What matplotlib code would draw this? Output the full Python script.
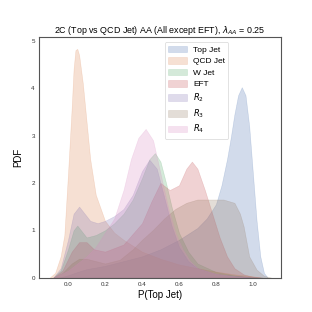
import matplotlib
matplotlib.use("Agg")
import matplotlib.pyplot as plt

# ----------------------------
# values (x = P(Top Jet), y = PDF)
# ----------------------------
labels = ["Top Jet", "QCD Jet", "W Jet", "EFT", "$R_2$", "$R_3$", "$R_4$"]
colors = ["#4C72B0", "#DD8452", "#55A868", "#C44E52", "#8172B3", "#937860", "#DA8BC3"]

top_x = [-0.05, 0.0, 0.05, 0.1, 0.2, 0.3, 0.4, 0.5, 0.6, 0.7, 0.75, 0.8, 0.83, 0.86, 0.88,
         0.9, 0.92, 0.94, 0.96, 0.98, 1.0, 1.02, 1.04, 1.06, 1.08]
top_y = [0, 0.05, 0.12, 0.18, 0.25, 0.35, 0.45, 0.6, 0.8, 1.05, 1.25, 1.55, 1.95, 2.5, 2.95,
         3.45, 3.85, 4.02, 3.85, 3.2, 2.2, 1.2, 0.45, 0.1, 0]

qcd_x = [-0.1, -0.07, -0.04, -0.02, 0.0, 0.02, 0.03, 0.04, 0.05, 0.06, 0.08, 0.1, 0.12,
         0.15, 0.2, 0.25, 0.3, 0.4, 0.5, 0.6, 0.7, 0.8, 0.9, 1.0, 1.05]
qcd_y = [0, 0.1, 0.45, 0.9, 2.2, 3.6, 4.4, 4.8, 4.83, 4.7, 4.1, 3.3, 2.5,
         1.75, 1.2, 0.95, 0.8, 0.55, 0.4, 0.28, 0.2, 0.13, 0.07, 0.03, 0]

w_x = [-0.08, -0.04, 0.0, 0.03, 0.05, 0.07, 0.1, 0.15, 0.2, 0.25, 0.3, 0.35, 0.4, 0.44,
       0.47, 0.5, 0.53, 0.56, 0.6, 0.65, 0.7, 0.8, 0.9, 1.0]
w_y = [0, 0.15, 0.6, 1.0, 1.1, 1.0, 0.85, 0.9, 1.0, 1.15, 1.35, 1.65, 2.1, 2.5,
       2.63, 2.45, 2.0, 1.5, 0.95, 0.55, 0.3, 0.12, 0.05, 0]

eft_x = [-0.08, -0.03, 0.02, 0.06, 0.1, 0.14, 0.2, 0.3, 0.4, 0.45, 0.5, 0.55, 0.6, 0.64,
         0.67, 0.7, 0.74, 0.78, 0.82, 0.86, 0.9, 0.95, 1.0, 1.05]
eft_y = [0, 0.15, 0.55, 0.75, 0.75, 0.6, 0.55, 0.7, 1.15, 1.6, 2.0, 1.85, 1.95, 2.3,
         2.45, 2.3, 1.85, 1.35, 0.85, 0.45, 0.2, 0.07, 0.02, 0]

r2_x = [-0.08, -0.04, 0.0, 0.03, 0.06, 0.09, 0.12, 0.16, 0.2, 0.25, 0.3, 0.35, 0.4, 0.44,
        0.48, 0.52, 0.56, 0.6, 0.65, 0.7, 0.8, 0.9, 1.0, 1.05]
r2_y = [0, 0.2, 0.8, 1.35, 1.5, 1.35, 1.2, 1.15, 1.2, 1.3, 1.45, 1.75, 2.25, 2.49,
        2.3, 1.7, 1.1, 0.65, 0.35, 0.2, 0.08, 0.04, 0.01, 0]

r3_x = [-0.08, -0.03, 0.02, 0.06, 0.1, 0.15, 0.2, 0.28, 0.35, 0.4, 0.46, 0.52, 0.58, 0.64,
        0.7, 0.77, 0.84, 0.9, 0.93, 0.95, 0.98, 1.02, 1.06, 1.1]
r3_y = [0, 0.1, 0.3, 0.4, 0.4, 0.35, 0.3, 0.38, 0.6, 0.8, 1.01, 1.25, 1.45, 1.58,
        1.65, 1.65, 1.65, 1.58, 1.35, 1.08, 0.45, 0.17, 0.04, 0]

r4_x = [-0.08, 0.0, 0.05, 0.1, 0.15, 0.2, 0.25, 0.3, 0.34, 0.38, 0.42, 0.46, 0.5, 0.54,
        0.58, 0.62, 0.66, 0.7, 0.8, 0.9, 1.0]
r4_y = [0, 0.15, 0.3, 0.45, 0.65, 0.95, 1.25, 1.85, 2.5, 2.95, 3.14, 2.9, 2.2, 1.5,
        0.95, 0.6, 0.35, 0.2, 0.08, 0.03, 0]

xs = [top_x, qcd_x, w_x, eft_x, r2_x, r3_x, r4_x]
ys = [top_y, qcd_y, w_y, eft_y, r2_y, r3_y, r4_y]

plt.rcParams["font.family"] = ["Liberation Sans", "DejaVu Sans"]

fig = plt.figure(figsize=(3.12, 3.12), dpi=100)
ax = fig.add_axes([0.125, 0.11, 0.775, 0.77])

for x, y, c, lab in zip(xs, ys, colors, labels):
    ax.fill_between(x, y, 0, facecolor=c, alpha=0.25, edgecolor=c, linewidth=0.4, label=lab)

ax.set_xlim(-0.157, 1.151)
ax.set_ylim(0, 5.07)
ax.set_xticks([0.0, 0.2, 0.4, 0.6, 0.8, 1.0])
ax.set_yticks([0, 1, 2, 3, 4, 5])
ax.tick_params(length=0, labelsize=4.5, pad=3, colors="#333333")

for s in ax.spines.values():
    s.set_color("#555555")
    s.set_linewidth(0.8)

ax.set_xlabel("P(Top Jet)", fontsize=7, labelpad=2)
ax.set_ylabel("PDF", fontsize=7, labelpad=6)
ax.set_title(r"2C (Top vs QCD Jet) AA (All except EFT), $\lambda_{AA}$ = 0.25", fontsize=6.4, pad=3)

leg = ax.legend(loc="upper left", bbox_to_anchor=(0.52, 0.98), borderaxespad=0,
                fontsize=6.0, frameon=True, handlelength=2.3, handleheight=0.9,
                labelspacing=0.38, borderpad=0.4, handletextpad=0.7)
leg.get_frame().set_linewidth(0.5)
leg.get_frame().set_edgecolor("#cccccc")

fig.savefig("out.png", dpi=100)
